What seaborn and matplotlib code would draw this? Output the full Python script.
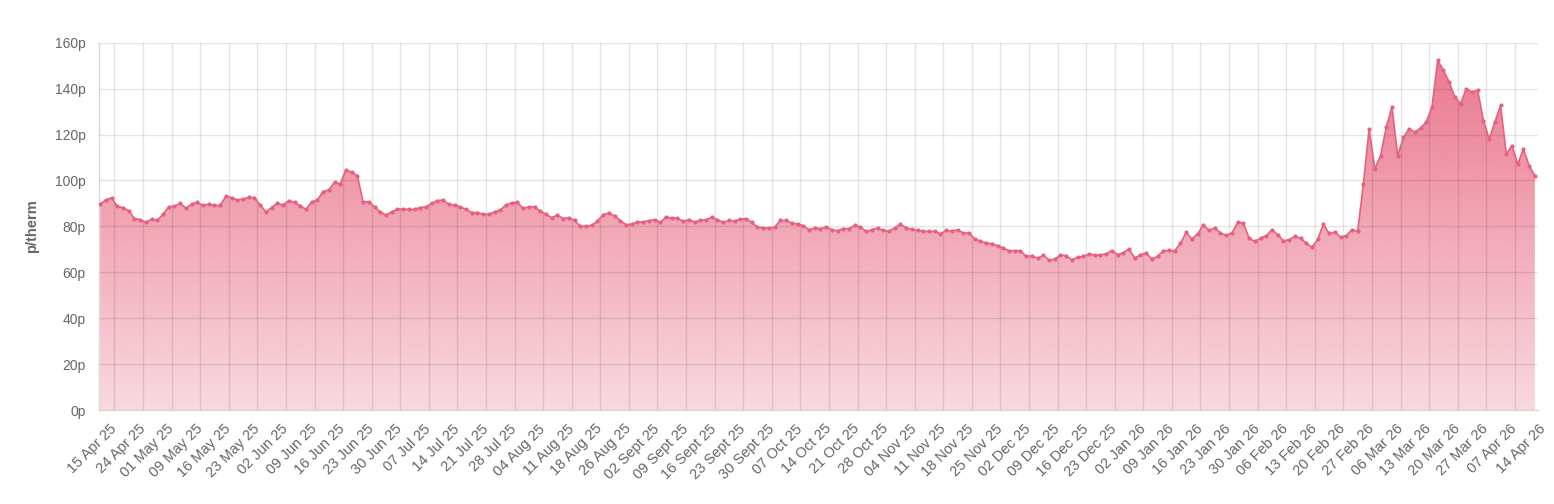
import numpy as np
import matplotlib
matplotlib.use("Agg")
import matplotlib.pyplot as plt
import matplotlib.transforms as mtransforms
from matplotlib.patches import Polygon
import seaborn as sns

# daily gas price in p/therm (one value per trading day)
prices = [
    89.7, 91.5, 92.4, 88.8, 88.1, 86.8, 83.4, 82.9, 81.8, 83.1, 82.6, 85.3, 88.5, 88.8, 90.0,
    87.9, 89.7, 90.4, 89.1, 89.7, 89.1, 89.1, 93.2, 92.5, 91.5, 91.9, 92.6, 92.5, 89.3, 86.3,
    88.2, 90.0, 89.3, 91.2, 90.4, 89.0, 87.4, 90.6, 91.5, 95.1, 95.9, 99.1, 98.5, 104.7,
    103.5, 102.1, 90.7, 90.7, 88.5, 86.3, 84.9, 86.3, 87.5, 87.5, 87.4, 87.4, 88.2, 88.5, 90.0,
    91.2, 91.5, 89.6, 89.3, 88.5, 87.4, 86.0, 86.0, 85.3, 85.3, 86.3, 87.1, 89.3, 90.3, 90.4,
    87.8, 88.5, 88.5, 86.6, 85.3, 83.8, 84.9, 83.4, 83.7, 82.6, 80.0, 80.0, 80.4, 82.3,
    85.1, 85.8, 84.6, 82.5, 80.7, 81.0, 81.9, 81.9, 82.5, 82.9, 81.7, 84.1, 83.6, 83.6, 82.2,
    82.9, 81.9, 82.6, 82.9, 83.9, 82.9, 81.7, 82.6, 82.2, 83.2, 83.3, 81.7, 79.7, 79.3, 79.3,
    79.6, 82.6, 82.6, 81.4, 81.0, 80.3, 78.5, 79.3, 79.0, 79.7, 78.5, 78.1, 79.0, 79.0,
    80.4, 79.7, 77.8, 78.5, 79.3, 78.2, 77.9, 79.3, 80.9, 79.4, 78.7, 78.2, 77.8, 77.8, 77.8,
    76.8, 78.2, 77.9, 78.5, 77.1, 77.1, 74.6, 73.5, 72.8, 72.4, 71.6, 70.6, 69.4, 69.4, 69.4,
    66.9, 67.2, 66.0, 67.5, 65.3, 65.7, 67.6, 67.2, 65.4, 66.5, 66.9, 67.9, 67.5, 67.5,
    68.1, 69.4, 67.6, 68.6, 70.1, 66.2, 67.6, 68.4, 65.7, 66.9, 69.4, 69.5, 69.4, 72.6, 77.4,
    74.5, 76.7, 80.7, 78.2, 79.3, 77.1, 76.1, 77.1, 81.7, 81.4, 74.9, 73.4, 74.9, 75.9, 78.5,
    76.4, 73.7, 74.2, 75.6, 74.9, 72.6,
    70.9, 74.3, 80.9, 76.9, 77.5, 75.3, 76.0, 78.4, 77.9, 98.4, 122.5, 105.0, 110.8, 123.2,
    132.0, 110.8, 118.8, 122.5, 121.0, 122.9, 125.4, 132.0, 152.4, 148.0, 142.9, 136.3, 133.4,
    140.0, 138.5, 139.3, 126.1, 118.1, 125.4, 132.7, 111.5, 115.2, 107.1, 113.7, 106.4, 102.0,
]

# one label every fifth trading day
tick_labels = [
    "15 Apr 25", "24 Apr 25", "01 May 25", "09 May 25", "16 May 25", "23 May 25",
    "02 Jun 25", "09 Jun 25", "16 Jun 25", "23 Jun 25", "30 Jun 25", "07 Jul 25",
    "14 Jul 25", "21 Jul 25", "28 Jul 25", "04 Aug 25", "11 Aug 25", "18 Aug 25",
    "26 Aug 25", "02 Sept 25", "09 Sept 25", "16 Sept 25", "23 Sept 25", "30 Sept 25",
    "07 Oct 25", "14 Oct 25", "21 Oct 25", "28 Oct 25", "04 Nov 25", "11 Nov 25",
    "18 Nov 25", "25 Nov 25", "02 Dec 25", "09 Dec 25", "16 Dec 25", "23 Dec 25",
    "02 Jan 26", "09 Jan 26", "16 Jan 26", "23 Jan 26", "30 Jan 26", "06 Feb 26",
    "13 Feb 26", "20 Feb 26", "27 Feb 26", "06 Mar 26", "13 Mar 26", "20 Mar 26",
    "27 Mar 26", "07 Apr 26", "14 Apr 26",
]

y_ticks = [0, 20, 40, 60, 80, 100, 120, 140, 160]

sns.set_theme(style="white")
plt.rcParams['font.family'] = ['Liberation Sans', 'DejaVu Sans']

days = np.arange(len(prices))
tick_pos = 2.5 + 5 * np.arange(len(tick_labels))

text_col = '#666666'
line_col = '#e6617f'
label_size = 10.5

fig = plt.figure(figsize=(15.54, 5.04), dpi=100)
ax = fig.add_axes([0.0639, 0.1865, 0.9260, 0.7288])

sns.lineplot(x=days, y=prices, ax=ax, color=line_col, linewidth=1.2,
             marker='o', markersize=3.0, markeredgewidth=0, zorder=3)

# gradient fill below the line, clipped to the area polygon
verts = [(days[0], 0)] + list(zip(days, prices)) + [(days[-1], 0)]
poly = Polygon(verts, closed=True, facecolor='none', edgecolor='none')
ax.add_patch(poly)
grad = np.zeros((256, 1, 4))
grad[:, 0, :3] = np.array([226, 62, 96]) / 255
grad[:, 0, 3] = np.linspace(0.72, 0.2, 256)
img = ax.imshow(grad, aspect='auto', extent=[days[0], days[-1], 0, 160],
                origin='upper', zorder=2)
img.set_clip_path(poly)

ax.set_xlim(-0.15, 251.6)
ax.set_ylim(0, 160)

ax.set_axisbelow(False)
ax.grid(True, color='black', alpha=0.1, linewidth=1)

ax.set_yticks(y_ticks)
ax.set_yticklabels([f"{v}p" for v in y_ticks])
# the last tick falls just outside the plot; its label is added by hand below
ax.set_xticks(tick_pos[:-1])
ax.set_xticklabels(tick_labels[:-1])

ax.tick_params(axis='both', length=7, width=1, color='#e6e6e6',
               labelcolor=text_col, labelsize=label_size)
ax.tick_params(axis='y', labelsize=10, pad=3)
ax.tick_params(axis='x', pad=5)
for lbl in ax.get_xticklabels():
    lbl.set_rotation(45)
    lbl.set_ha('right')
    lbl.set_va('center')
    lbl.set_rotation_mode('anchor')

offset = mtransforms.ScaledTranslation(0, -12 / 72, fig.dpi_scale_trans)
ax.text(tick_pos[-1], 0, tick_labels[-1], transform=ax.get_xaxis_transform() + offset,
        rotation=45, rotation_mode='anchor', ha='right', va='center',
        fontsize=label_size, color=text_col, clip_on=False)

for side in ['top', 'right']:
    ax.spines[side].set_visible(False)
for side in ['left', 'bottom']:
    ax.spines[side].set_color('#d9d9d9')
    ax.spines[side].set_linewidth(1)

ax.set_ylabel('p/therm', fontsize=10.5, fontweight='bold', color=text_col, labelpad=11)

fig.savefig('out.png', dpi=100)
